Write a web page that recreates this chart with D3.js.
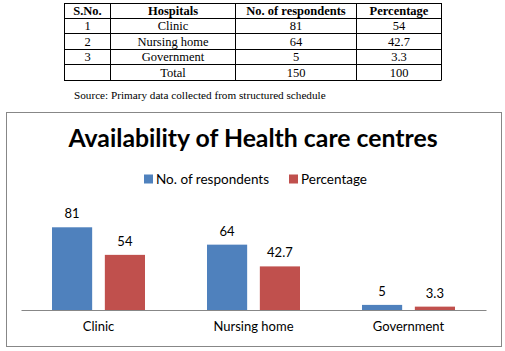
<!DOCTYPE html>
<html><head><meta charset="utf-8">
<script src="https://cdn.jsdelivr.net/npm/d3@7"></script>
<style>body{margin:0;background:#fff}</style>
</head><body><svg id="c" width="505" height="351"></svg>
<script>
const tableHeaders = ["S.No.", "Hospitals", "No. of respondents", "Percentage"];
const tableRows = [
  ["1", "Clinic", "81", "54"],
  ["2", "Nursing home", "64", "42.7"],
  ["3", "Government", "5", "3.3"],
  ["", "Total", "150", "100"]
];
const sourceNote = "Source: Primary data collected from structured schedule";
const chartTitle = "Availability of Health care centres";
const categories = ["Clinic", "Nursing home", "Government"];
const seriesNames = ["No. of respondents", "Percentage"];
const respondents = [81, 64, 5];
const percentage = [54, 42.7, 3.3];
const colors = ["#4F81BD", "#C0504D"];

const svg = d3.select("#c");
// Table
const colEdges = [64, 110, 235, 356, 441];
const rowEdges = [3, 18, 33, 49, 64, 80];
const tg = svg.append("g");
rowEdges.forEach(y => tg.append("line").attr("x1", 64).attr("x2", 441).attr("y1", y + 0.5).attr("y2", y + 0.5).attr("stroke", "#000"));
colEdges.forEach(x => tg.append("line").attr("x1", x + 0.5).attr("x2", x + 0.5)
  .attr("y1", 3).attr("y2", 80.5).attr("stroke", "#000"));
const allRows = [tableHeaders].concat(tableRows);
allRows.forEach((r, ri) => {
  r.forEach((t, ci) => {
    tg.append("text").attr("x", (colEdges[ci] + colEdges[ci + 1]) / 2 + 0.5)
      .attr("y", (rowEdges[ri] + rowEdges[ri + 1]) / 2 + 4.5)
      .attr("text-anchor", "middle")
      .attr("font-family", "Liberation Serif").attr("font-size", 12.5)
      .attr("font-weight", ri === 0 ? "bold" : "normal").text(t);
  });
});
tg.append("text").attr("x", 74).attr("y", 99).attr("font-family", "Liberation Serif")
  .attr("font-size", 11.2).text(sourceNote);

// Chart frame
svg.append("rect").attr("x", 6.5).attr("y", 112.5).attr("width", 495).attr("height", 234)
  .attr("fill", "#fff").attr("stroke", "#878787").attr("stroke-width", 1);

const font = "Lato, 'Open Sans', sans-serif";
svg.append("text").attr("x", 253).attr("y", 147).attr("text-anchor", "middle")
  .attr("font-family", font).attr("font-weight", "bold").attr("font-size", 24.8).text(chartTitle);

// Legend
const lg = svg.append("g");
const legendX = [144, 289];
seriesNames.forEach((n, i) => {
  lg.append("rect").attr("x", legendX[i]).attr("y", 174.5).attr("width", 9).attr("height", 9).attr("fill", colors[i]);
  lg.append("text").attr("x", legendX[i] + 12).attr("y", 183.5).attr("font-family", font)
    .attr("font-size", 13.5).text(n);
});

// Scales
const x0 = d3.scaleBand().domain(categories).range([21, 486]).paddingInner(0).paddingOuter(0);
const x1 = d3.scaleBand().domain(seriesNames).range([0, 93]).paddingInner(0.24);
const y = d3.scaleLinear().domain([0, 90]).range([310, 218.1]);
const data = categories.map((c, i) => ({c, vals: [respondents[i], percentage[i]]}));

const groups = svg.append("g").selectAll("g").data(data).join("g")
  .attr("transform", d => `translate(${x0(d.c) + (x0.bandwidth() - 93) / 2},0)`);
groups.selectAll("rect").data(d => d.vals.map((v, i) => ({v, s: seriesNames[i], i})))
  .join("rect").attr("x", d => x1(d.s)).attr("width", x1.bandwidth())
  .attr("y", d => y(d.v)).attr("height", d => y(0) - y(d.v)).attr("fill", d => colors[d.i]);
groups.selectAll("text").data(d => d.vals.map((v, i) => ({v, s: seriesNames[i], i})))
  .join("text").attr("x", d => x1(d.s) + x1.bandwidth() / 2).attr("y", d => y(d.v) - 9)
  .attr("text-anchor", "middle").attr("font-family", font).attr("font-size", 13).text(d => d.v);

// Axis
const ax = svg.append("g").attr("transform", "translate(0,310)")
  .call(d3.axisBottom(x0).tickSize(0).tickPadding(12));
ax.select(".domain").attr("stroke", "#878787");
ax.selectAll("text").attr("font-family", font).attr("font-size", 13).attr("fill", "#000");
</script></body></html>
